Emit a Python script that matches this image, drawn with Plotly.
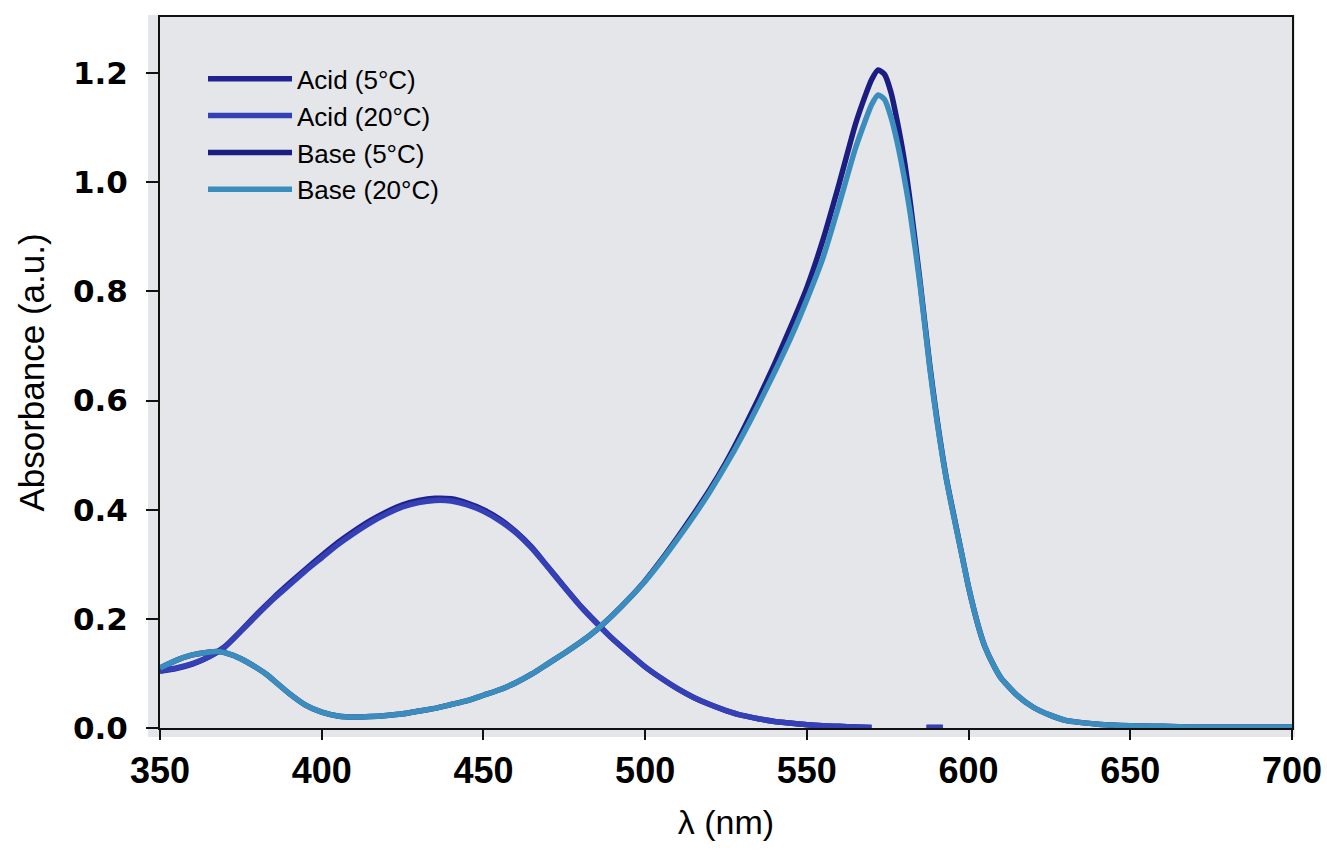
import plotly.graph_objects as go

# ---------------- data ----------------
wl_acid = [350, 355, 360, 365, 370, 375, 380, 385, 390, 395, 400, 405, 410, 415,
           420, 425, 430, 435, 440, 445, 450, 455, 460, 465, 470, 475, 480, 485,
           490, 495, 500, 505, 510, 515, 520, 525, 530, 535, 540, 545, 550, 555,
           560, 565, 570, None, 587, 592]
acid_20 = [0.105, 0.110, 0.118, 0.130, 0.148, 0.177, 0.207, 0.236, 0.262, 0.288,
           0.312, 0.336, 0.357, 0.376, 0.392, 0.405, 0.413, 0.417, 0.416, 0.409,
           0.397, 0.380, 0.358, 0.329, 0.294, 0.258, 0.223, 0.192, 0.163, 0.137,
           0.112, 0.091, 0.072, 0.056, 0.043, 0.032, 0.023, 0.017, 0.012, 0.009,
           0.006, 0.004, 0.003, 0.002, 0.001, None, 0.001, 0.001]
acid_5 = [0.104, 0.109, 0.117, 0.130, 0.149, 0.178, 0.209, 0.238, 0.265, 0.291,
          0.316, 0.340, 0.361, 0.380, 0.396, 0.409, 0.417, 0.421, 0.420, 0.412,
          0.400, 0.383, 0.360, 0.331, 0.295, 0.259, 0.224, 0.193, 0.163, 0.137,
          0.112, 0.091, 0.072, 0.056, 0.043, 0.032, 0.023, 0.017, 0.012, 0.009,
          0.006, 0.004, 0.003, 0.002, 0.001, None, 0.001, 0.001]

wl_base = [350, 355, 360, 365, 368, 370, 375, 380, 383, 385, 390, 395, 400, 405,
           410, 415, 420, 425, 430, 435, 440, 445, 450, 455, 460, 465, 470, 475,
           480, 485, 490, 495, 500, 505, 510, 515, 520, 525, 530, 535, 540, 545,
           550, 555, 560, 565, 568, 570, 572, 574, 576, 578, 580, 582, 585, 588,
           590, 593, 595, 598, 600, 603, 605, 608, 610, 615, 620, 625, 630, 640,
           650, 660, 670, 680, 690, 700]
base_20 = [0.110, 0.124, 0.134, 0.139, 0.140, 0.138, 0.127, 0.110, 0.098, 0.088,
           0.063, 0.042, 0.029, 0.022, 0.020, 0.021, 0.023, 0.026, 0.031, 0.036,
           0.043, 0.050, 0.060, 0.070, 0.083, 0.099, 0.118, 0.137, 0.157, 0.180,
           0.207, 0.237, 0.269, 0.306, 0.346, 0.388, 0.433, 0.482, 0.535, 0.592,
           0.652, 0.715, 0.785, 0.862, 0.960, 1.062, 1.112, 1.142, 1.160, 1.152,
           1.120, 1.072, 1.012, 0.942, 0.812, 0.660, 0.572, 0.460, 0.400, 0.315,
           0.258, 0.187, 0.150, 0.112, 0.092, 0.060, 0.038, 0.024, 0.014, 0.007,
           0.004, 0.003, 0.002, 0.002, 0.002, 0.002]
base_5 = [0.110, 0.124, 0.134, 0.139, 0.140, 0.138, 0.127, 0.110, 0.098, 0.088,
          0.063, 0.042, 0.029, 0.022, 0.020, 0.021, 0.023, 0.026, 0.031, 0.036,
          0.043, 0.050, 0.060, 0.070, 0.083, 0.099, 0.118, 0.137, 0.157, 0.180,
          0.207, 0.237, 0.270, 0.308, 0.349, 0.392, 0.437, 0.487, 0.543, 0.603,
          0.667, 0.735, 0.807, 0.895, 0.998, 1.106, 1.158, 1.188, 1.206, 1.198,
          1.165, 1.110, 1.045, 0.962, 0.818, 0.665, 0.576, 0.462, 0.402, 0.316,
          0.258, 0.187, 0.150, 0.112, 0.092, 0.060, 0.038, 0.024, 0.014, 0.007,
          0.004, 0.003, 0.002, 0.002, 0.002, 0.002]

series_names = ["Acid (5\u00b0C)", "Acid (20\u00b0C)", "Base (5\u00b0C)", "Base (20\u00b0C)"]
series_colors = ["#20228e", "#3540b6", "#1b1e80", "#3b8dbd"]

x_ticks = [350, 400, 450, 500, 550, 600, 650, 700]
y_ticks = [0.0, 0.2, 0.4, 0.6, 0.8, 1.0, 1.2]

# ---------------- figure ----------------
fig = go.Figure()
series = [(wl_acid, acid_5), (wl_acid, acid_20), (wl_base, base_5), (wl_base, base_20)]
for (xs, ys), name, col in zip(series, series_names, series_colors):
    fig.add_trace(go.Scatter(x=xs, y=ys, mode="lines", name=name,
                             line=dict(color=col, width=5.5, shape="spline", smoothing=0.6),
                             connectgaps=False))

W, H = 1327, 857
L, R, T, B = 160, 35, 17, 129
pw, ph = W - L - R, H - T - B
bg = "#e4e6ea"

# grey scanned panel slightly larger than the axes box
fig.add_shape(type="rect", xref="paper", yref="paper",
              x0=-12 / pw, x1=1 + 3 / pw, y0=-9 / ph, y1=1 + 2 / ph,
              fillcolor=bg, line=dict(width=0), layer="below")

fig.update_layout(
    width=W, height=H,
    margin=dict(l=L, r=R, t=T, b=B, autoexpand=False),
    paper_bgcolor="white",
    plot_bgcolor=bg,
    font=dict(family="Liberation Sans, Arial, sans-serif", color="black"),
    showlegend=True,
    legend=dict(x=0.038, y=0.946, xanchor="left", yanchor="top",
                bgcolor="rgba(0,0,0,0)", borderwidth=0,
                font=dict(size=26, color="black"),
                itemwidth=84, tracegroupgap=0),
)
fig.update_xaxes(
    range=[350, 700], tickvals=x_ticks, ticktext=[str(v) for v in x_ticks],
    showgrid=False, zeroline=False, automargin=False,
    showline=True, linecolor="#111", linewidth=2, mirror=True,
    ticks="outside", ticklen=10, tickwidth=2, tickcolor="#111",
    tickfont=dict(size=36, weight="bold", color="black"),
    title=dict(text="\u03bb (nm)", font=dict(size=34), standoff=20),
)
fig.update_yaxes(
    range=[0, 1.303], tickvals=y_ticks, ticktext=["%.1f" % v for v in y_ticks],
    showgrid=False, zeroline=False, automargin=False,
    showline=True, linecolor="#111", linewidth=2, mirror=True,
    ticks="outside", ticklen=12, tickwidth=2, tickcolor="#111",
    ticklabelstandoff=12,
    tickfont=dict(family="DejaVu Sans", size=31, weight="bold", color="black"),
    title=dict(text="Absorbance (a.u.)", font=dict(size=35), standoff=18),
)

fig.write_html("out.html")
